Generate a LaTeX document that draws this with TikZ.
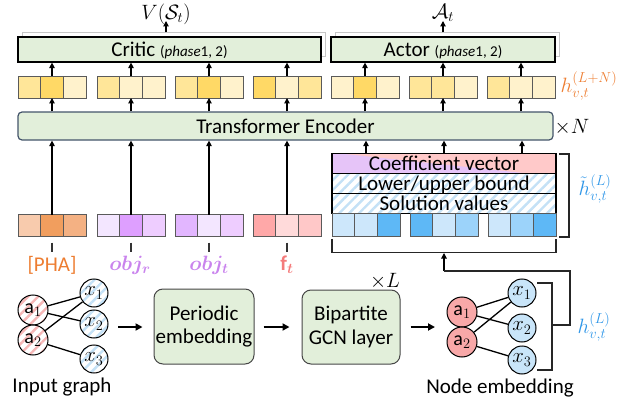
\documentclass[tikz,border=0pt]{standalone}
\usepackage{fontspec}
\setmainfont{Carlito}
\usepackage{amsmath}
\usetikzlibrary{arrows.meta,patterns.meta}
\definecolor{boxg}{HTML}{E2EFDA}
\definecolor{cellb}{HTML}{5A5A5A}
\definecolor{yA}{HTML}{FFE699}
\definecolor{yB}{HTML}{FFD966}
\definecolor{yC}{HTML}{FFF2CC}
\definecolor{oA}{HTML}{F8CBAD}
\definecolor{oB}{HTML}{F19E5E}
\definecolor{oC}{HTML}{F4B183}
\definecolor{pA}{HTML}{F3E6FF}
\definecolor{pB}{HTML}{DE9FFF}
\definecolor{pC}{HTML}{EECDFF}
\definecolor{pD}{HTML}{E2B6FF}
\definecolor{rA}{HTML}{FFA8A8}
\definecolor{rB}{HTML}{FFDADA}
\definecolor{rC}{HTML}{FFC8C8}
\definecolor{bA}{HTML}{CDE7FB}
\definecolor{bB}{HTML}{5EB8F6}
\definecolor{bC}{HTML}{9CD3FA}
\definecolor{stripeb}{HTML}{C4E1F6}
\definecolor{striper}{HTML}{F6B6B6}
\definecolor{coefpurp}{HTML}{E6C4F8}
\definecolor{coefpink}{HTML}{FFC9C9}
\definecolor{anodec}{HTML}{F8A8A8}
\definecolor{xnodec}{HTML}{C9E5F9}
\definecolor{orangel}{HTML}{ED7D31}
\definecolor{purpl}{HTML}{C983ED}
\definecolor{redl}{HTML}{F47B7B}
\definecolor{bluel}{HTML}{2E96E8}
\definecolor{trb}{HTML}{44546A}
\newcommand\vgroup[6]{%
  \node[cell,fill=#4,anchor=west] (#1-1) at (#2,#3) {};
  \node[cell,fill=#5,anchor=west] (#1-2) at (#1-1.east) {};
  \node[cell,fill=#6,anchor=west] (#1-3) at (#1-2.east) {};
}
\begin{document}
\begin{tikzpicture}[x=1pt,y=-1pt,
  every node/.style={font=\fontsize{21}{24}\selectfont},
  cell/.style={draw=cellb,line width=0.9pt,minimum width=22.67pt,minimum height=22pt,inner sep=0pt,outer sep=0pt},
  bcell/.style={cell,minimum height=23pt},
  arr/.style={-{Triangle[length=5.5pt,width=5.5pt]},line width=1.1pt},
  barr/.style={-{Triangle[length=7pt,width=7pt]},line width=1.8pt},
  headbox/.style={draw=black,line width=1.2pt,fill=boxg,inner sep=0pt,text height=15pt,text depth=1pt,minimum height=25pt},
  shbox/.style={draw=gray!45,line width=1pt,fill=white,minimum height=24pt,inner sep=0pt},
  trbox/.style={draw=trb,line width=1.2pt,fill=boxg,rounded corners=4pt,inner sep=0pt,text height=15pt,text depth=1pt},
  rowbox/.style={draw=black,line width=1.2pt,minimum width=224pt,minimum height=20pt,inner sep=0pt,text height=15pt,text depth=1pt},
  hatchb/.style={preaction={fill=white},pattern={Lines[angle=45,distance=7pt,line width=2.4pt]},pattern color=stripeb},
  hatchr/.style={preaction={fill=white},pattern={Lines[angle=45,distance=7pt,line width=2.4pt]},pattern color=striper},
  stepbox/.style={draw=gray!55!black,line width=1pt,fill=boxg,rounded corners=9pt,align=center,inner sep=0pt,font=\fontsize{21}{23.5}\selectfont},
  gnode/.style={circle,draw=black,line width=1pt,inner sep=0pt,font=\fontsize{20}{22}\selectfont},
  anode/.style={gnode,minimum size=30pt},
  xnode/.style={gnode,minimum size=28pt},
  edge/.style={line width=1.3pt},
  brk/.style={line width=1.2pt,draw=black!85},
  dashln/.style={line width=1.3pt,draw=black!80}
]
\useasboundingbox (0,0) rectangle (627,404);

% ---- top heads ----
\node[shbox,minimum width=303pt] (critsh) at (173.5,45) {};
\node[headbox,minimum width=303pt] (critic) at (169.5,49.5) {Critic {\fontsize{15}{18}\selectfont($\mathit{phase}$1, 2)}};
\node[shbox,minimum width=224pt] (actsh) at (447,45) {};
\node[headbox,minimum width=224pt] (actor) at (443,49.5) {Actor {\fontsize{15}{18}\selectfont($\mathit{phase}$1, 2)}};
\node[inner sep=1pt] (V) at (166,14) {$V(\mathcal{S}_t)$};
\node[inner sep=1pt] (A) at (443,13) {$\mathcal{A}_t$};
\draw[arr] (critsh.north -| V.center) -- ([yshift=-7pt]V.center);
\draw[arr] (actsh.north -| A.center) -- ([yshift=-8pt]A.center);

% ---- yellow output vectors ----
\vgroup{ya}{18}{87}{yA}{yB}{yC}
\vgroup{yb}{97}{87}{yA}{yC}{yC}
\vgroup{yc}{175}{87}{yA}{yB}{yC}
\vgroup{yd}{253}{87}{yB}{yC}{yA}
\vgroup{ye}{331}{87}{yC}{yB}{yC}
\vgroup{yf}{409}{87}{yA}{yA}{yC}
\vgroup{yg}{487}{87}{yA}{yC}{yC}
\foreach \g in {ya,yb,yc,yd} {\draw[arr] (\g-2.north) -- (\g-2.north |- critic.south);}
\foreach \g in {ye,yf,yg} {\draw[arr] (\g-2.north) -- (\g-2.north |- actor.south);}
\node[text=orangel] (hLN) at (589,86) {$h_{v,t}^{(L+N)}$};

% ---- transformer ----
\node[trbox,minimum width=535pt,minimum height=28pt] (trans) at (285.5,126) {Transformer Encoder};
\node (xN) at (572,127) {$\times N$};
\foreach \g in {ya,yb,yc,yd,ye,yf,yg} {\draw[arr] (\g-2.south |- trans.north) -- (\g-2.south);}

% ---- input token vectors ----
\vgroup{ia}{18}{225.5}{oA}{oB}{oC}
\vgroup{ib}{97}{225.5}{pA}{pB}{pC}
\vgroup{ic}{175}{225.5}{pD}{pA}{pC}
\vgroup{id}{253}{225.5}{rA}{rB}{rC}
\foreach \g in {ia,ib,ic,id} {
  \draw[arr] (\g-2.north) -- (\g-2.north |- trans.south);
  \draw[dashln] ([yshift=-6pt]\g-2.south) -- ([yshift=-15pt]\g-2.south);
}
\node[text=orangel] (lpha) at (52,265) {[PHA]};
\node[text=purpl] (lobr) at (130,265) {$\boldsymbol{obj_r}$};
\node[text=purpl] (lobt) at (209,265) {$\boldsymbol{obj_t}$};
\node[text=redl] (lft) at (287,265) {$\mathbf{f}_{\boldsymbol{t}}$};

% ---- variable stack ----
\node[rowbox,fill=coefpink,
  path picture={\fill[coefpurp] (path picture bounding box.south west) -- (path picture bounding box.north west) -- ([xshift=8pt]path picture bounding box.north west) -- ([xshift=-28pt]path picture bounding box.south east) -- cycle;}
  ] (coef) at (444,163.5) {Coefficient vector};
\node[rowbox,hatchb] (bound) at (444,183.5) {Lower/upper bound};
\node[rowbox,hatchb] (sol) at (444,203.5) {Solution values};
\node[bcell,fill=bA,anchor=west] (ba-1) at (332,225) {};
\node[bcell,fill=bA,anchor=west] (ba-2) at (ba-1.east) {};
\node[bcell,fill=bB,anchor=west] (ba-3) at (ba-2.east) {};
\node[bcell,fill=bB,anchor=west] (bb-1) at (410,225) {};
\node[bcell,fill=bA,anchor=west] (bb-2) at (bb-1.east) {};
\node[bcell,fill=bC,anchor=west] (bb-3) at (bb-2.east) {};
\node[bcell,fill=bA,anchor=west] (bc-1) at (488,225) {};
\node[bcell,fill=bC,anchor=west] (bc-2) at (bc-1.east) {};
\node[bcell,fill=bB,anchor=west] (bc-3) at (bc-2.east) {};
\foreach \g in {ba,bb,bc} {\draw[arr] (\g-2.north |- coef.north) -- (\g-2.north |- trans.south);}
\draw[brk] (559,154) -- (569,154) -- (569,237) -- (559,237);
\node[text=bluel,inner sep=1pt] (htl) at (595,189) {$\tilde{h}_{v,t}^{(L)}$};

% bracket under blue vectors and feedback line
\draw[brk] ([yshift=-2pt]ba-1.south west) -- ++(0,14) -| ([yshift=-2pt]bc-3.south east);
\coordinate (brM) at (444,253);
\coordinate (fb0) at (444,271);
\coordinate (fb1) at (570,271);
\coordinate (fb2) at (570,325);
\coordinate (fb3) at (552,325);
\draw[arr] (fb0) -- (brM);
\draw[brk] (fb0) -- (fb1) -- (fb2) -- (fb3);
\draw[brk] (537,283) -- (552,283) -- (552,370) -- (537,370);
\node[text=bluel] (hl) at (594,327) {$h_{v,t}^{(L)}$};

% ---- input graph ----
\node[anode,hatchr] (ia1) at (33,310) {a$_1$};
\node[anode,hatchr] (ia2) at (33,340) {a$_2$};
\node[xnode,hatchb] (ix1) at (94,293) {$x_1$};
\node[xnode,hatchb] (ix2) at (94,324) {$x_2$};
\node[xnode,hatchb] (ix3) at (94,359) {$x_3$};
\draw[edge] (ia1) -- (ix1);
\draw[edge] (ia1) -- (ix2);
\draw[edge] (ia2) -- (ix1);
\draw[edge] (ia2) -- (ix3);
\node (ig) at (62,387) {Input graph};

% ---- pipeline ----
\node[stepbox,minimum width=100pt,minimum height=75pt] (per) at (204,326.5) {Periodic\\embedding};
\node[stepbox,minimum width=98pt,minimum height=74pt] (gcn) at (351,327) {Bipartite\\GCN layer};
\node (xL) at (385,281) {$\times L$};
\coordinate (s1) at (118,327);
\coordinate (s3) at (435,327);
\draw[barr,shorten >=11pt] (s1) -- (s1 -| per.west);
\draw[barr,shorten <=9pt,shorten >=12pt] (per.east |- s1) -- (gcn.west |- s1);
\draw[barr,shorten <=10pt] (gcn.east |- s3) -- (s3);

% ---- node embedding ----
\node[anode,fill=anodec] (ea1) at (462,312) {a$_1$};
\node[anode,fill=anodec] (ea2) at (462,342) {a$_2$};
\node[xnode,fill=xnodec] (ex1) at (522,293) {$x_1$};
\node[xnode,fill=xnodec] (ex2) at (522,328) {$x_2$};
\node[xnode,fill=xnodec] (ex3) at (522,360) {$x_3$};
\draw[edge] (ea1) -- (ex1);
\draw[edge] (ea1) -- (ex2);
\draw[edge] (ea2) -- (ex1);
\draw[edge] (ea2) -- (ex3);
\node (ne) at (500,388) {Node embedding};
\end{tikzpicture}
\end{document}
